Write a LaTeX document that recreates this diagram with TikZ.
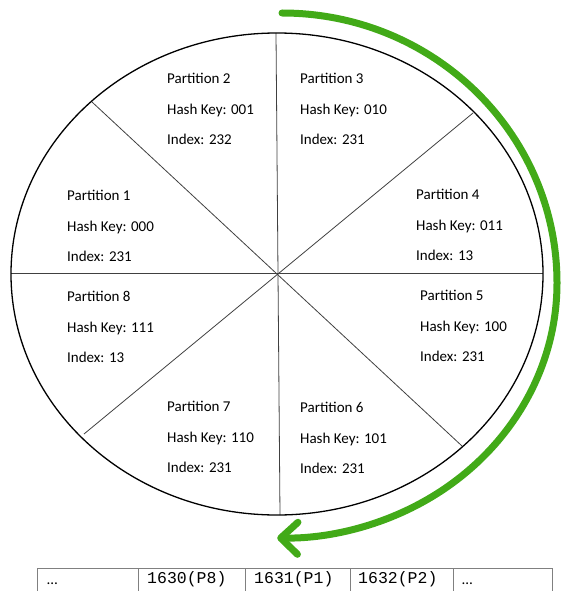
\documentclass[tikz,border=0pt]{standalone}
\usepackage{fontspec}
\setmainfont{Carlito}
\newfontfamily\cellmono{Liberation Mono}
\usetikzlibrary{arrows.meta}
\definecolor{ringgreen}{RGB}{66,170,24}
\tikzset{
  partinfo/.style={anchor=north west, inner sep=0pt, align=left, font=\fontsize{15}{30.5}\selectfont},
  sector/.style={draw=black!75, line width=0.8pt},
  cellbox/.style={draw=black!50, line width=1pt},
  celltext/.style={anchor=base west, inner sep=0pt}
}
\begin{document}
\begin{tikzpicture}[x=1pt, y=-1pt]
\useasboundingbox (0,0) rectangle (561,591);
\draw[sector] (11,273) -- (543,273);
\draw[sector] (276,33) -- (280,515);
\draw[sector] (92,102) -- (462,446);
\draw[sector] (473,113) -- (84,434);
\draw[black, line width=1.3pt] (277,274) ellipse [x radius=266, y radius=241];
\node[partinfo] (part2) at (167,73) {Partition 2\\Hash Key: 001\\Index: 232};
\node[partinfo] (part3) at (300,73) {Partition 3\\Hash Key: 010\\Index: 231};
\node[partinfo] (part1) at (67,190) {Partition 1\\Hash Key: 000\\Index: 231};
\node[partinfo] (part4) at (416,189) {Partition 4\\Hash Key: 011\\Index: 13};
\node[partinfo] (part8) at (67,291) {Partition 8\\Hash Key: 111\\Index: 13};
\node[partinfo] (part5) at (420,290) {Partition 5\\Hash Key: 100\\Index: 231};
\node[partinfo] (part7) at (167,401) {Partition 7\\Hash Key: 110\\Index: 231};
\node[partinfo] (part6) at (300,402) {Partition 6\\Hash Key: 101\\Index: 231};
\draw[ringgreen, line width=7pt, line cap=round, line join=round,
  -{Straight Barb[length=17pt, width=32pt, round]}]
  (282,13) arc[start angle=-90, end angle=0, x radius=275, y radius=270]
  arc[start angle=0, end angle=91, x radius=275, y radius=255];
\draw[cellbox] (37,568) -- (552,568);
\draw[cellbox] (37,568) -- (37,591);
\draw[cellbox] (138,568) -- (138,591);
\draw[cellbox] (245,568) -- (245,591);
\draw[cellbox] (350,568) -- (350,591);
\draw[cellbox] (453,568) -- (453,591);
\draw[cellbox] (552,568) -- (552,591);
\node[celltext, font=\fontsize{15}{18}\selectfont] (cellA) at (47,584) {…};
\node[celltext, font=\cellmono\fontsize{16.5}{20}\selectfont] (cellB) at (147,583) {1630(P8)};
\node[celltext, font=\cellmono\fontsize{16.5}{20}\selectfont] (cellC) at (254,583) {1631(P1)};
\node[celltext, font=\cellmono\fontsize{16.5}{20}\selectfont] (cellD) at (358,583) {1632(P2)};
\node[celltext, font=\fontsize{15}{18}\selectfont] (cellE) at (462,584) {…};
\end{tikzpicture}
\end{document}
